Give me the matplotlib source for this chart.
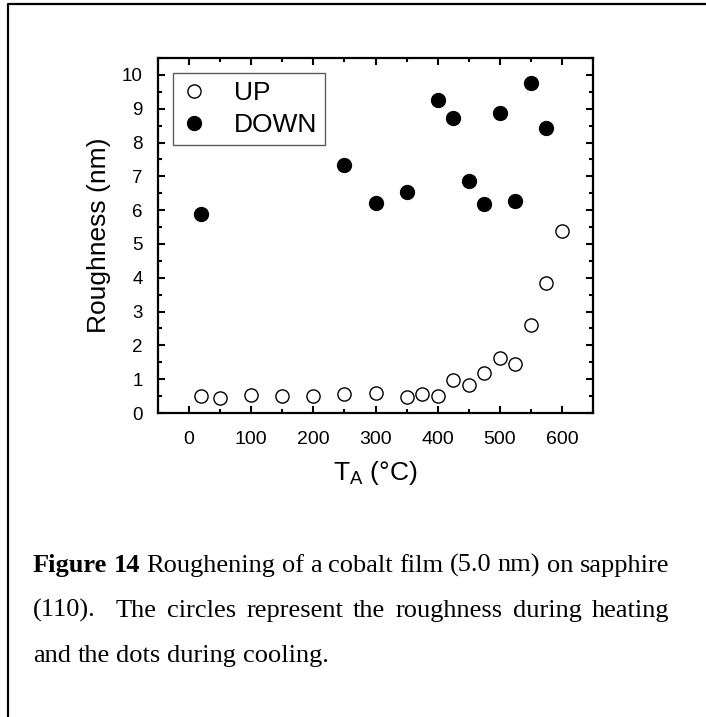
import numpy as np
import matplotlib
matplotlib.use('Agg')
import matplotlib.pyplot as plt
from matplotlib.lines import Line2D
from matplotlib.ticker import MultipleLocator

# 加热 (UP) 和冷却 (DOWN) 时的粗糙度
t_up = [20, 50, 100, 150, 200, 250, 300, 350, 375, 400, 425, 450, 475, 500, 525, 550, 575, 600]
r_up = [0.50, 0.44, 0.54, 0.49, 0.50, 0.57, 0.58, 0.47, 0.57, 0.50, 0.98, 0.82, 1.18, 1.64, 1.46, 2.61, 3.84, 5.38]
t_down = [20, 250, 300, 350, 400, 425, 450, 475, 500, 525, 550, 575]
r_down = [5.90, 7.34, 6.20, 6.55, 9.26, 8.74, 6.86, 6.19, 8.87, 6.28, 9.76, 8.44]

x_ticks = [0, 100, 200, 300, 400, 500, 600]
y_ticks = list(range(0, 11))

# 图注: (单词, 是否加粗)
caption_lines = [
    [("Figure", True), ("14", True), ("Roughening", False), ("of", False), ("a", False),
     ("cobalt", False), ("film", False), ("(5.0", False), ("nm)", False), ("on", False),
     ("sapphire", False)],
    [("(110).", False), ("", False), ("The", False), ("circles", False), ("represent", False),
     ("the", False), ("roughness", False), ("during", False), ("heating", False)],
    [("and", False), ("the", False), ("dots", False), ("during", False), ("cooling.", False)],
]

W, H = 706, 717
fig = plt.figure(figsize=(W / 100, H / 100), dpi=100)
plt.rcParams['font.family'] = ['Liberation Sans', 'DejaVu Sans']

ax = fig.add_axes([158 / W, 1 - 413 / H, (593 - 158) / W, (413 - 58) / H])
ax.plot(t_up, r_up, 'o', ms=9.5, mfc='white', mec='black', mew=1.0, label='UP')
ax.plot(t_down, r_down, 'o', ms=10, mfc='black', mec='black', label='DOWN')

ax.set_xlim(-50, 650)
ax.set_ylim(0, 10.5)
ax.set_xticks(x_ticks)
ax.set_yticks(y_ticks)
ax.xaxis.set_minor_locator(MultipleLocator(50))
ax.yaxis.set_minor_locator(MultipleLocator(0.5))
ax.tick_params(which='both', direction='in', top=True, right=True, width=1.5)
ax.tick_params(which='major', length=5)
ax.tick_params(which='minor', length=3)
ax.tick_params(axis='x', labelsize=14, pad=13)
ax.tick_params(axis='y', labelsize=13.5, pad=11)
for s in ax.spines.values():
    s.set_linewidth(1.6)

ax.set_xlabel(r'T$_{\mathregular{A}}$ (°C)', fontsize=19, labelpad=8)
ax.set_ylabel('Roughness (nm)', fontsize=19, labelpad=8)

leg = ax.legend(loc='upper left', bbox_to_anchor=(0.0345, 0.958), borderaxespad=0,
                fontsize=19, frameon=True, fancybox=False, labelspacing=0.3,
                handlelength=1.0, handletextpad=1.0, borderpad=0.3)
leg.get_frame().set_edgecolor('#333333')
leg.get_frame().set_linewidth(1.0)

# 外框 (左和上)
fig.add_artist(Line2D([8 / W, 8 / W, 1.0], [0.0, 1 - 4 / H, 1 - 4 / H],
                      transform=fig.transFigure, color='black', lw=1.6))

# 图注, 两端对齐
x0, x1 = 33, 669
baselines = [572, 617, 662]
renderer = fig.canvas.get_renderer()
for i, words in enumerate(caption_lines):
    texts = []
    for w, bold in words:
        t = fig.text(0, 1 - baselines[i] / H, w, fontsize=19, va='baseline', ha='left',
                     family=['Liberation Serif', 'DejaVu Serif'],
                     weight='bold' if bold else 'normal')
        texts.append(t)
    widths = [t.get_window_extent(renderer).width if t.get_text() else 0 for t in texts]
    if i < len(caption_lines) - 1:
        gap = (x1 - x0 - sum(widths)) / (len(texts) - 1)
    else:
        gap = 19 * 1.39 * 0.25
    x = x0
    for t, w in zip(texts, widths):
        t.set_x(x / W)
        x += w + gap

fig.savefig('out.png', dpi=100)
